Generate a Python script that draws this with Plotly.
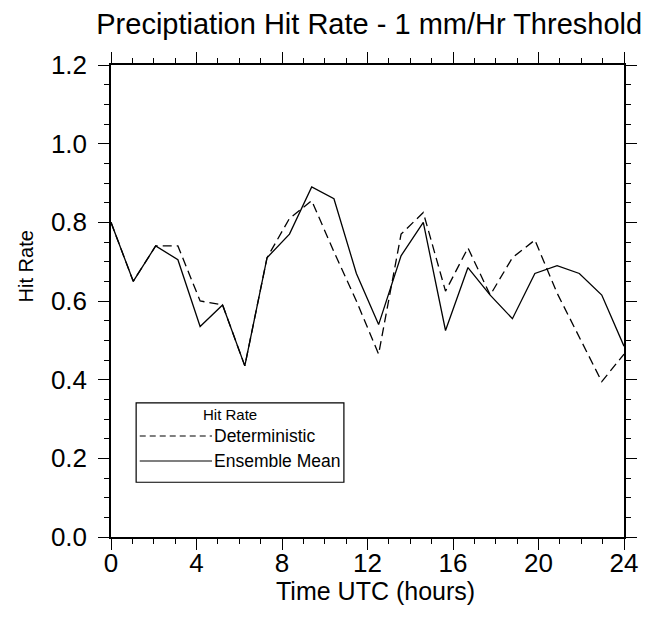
import plotly.graph_objects as go

# Forecast valid times (hours UTC)
time_utc = [0.0, 1.04, 2.09, 3.13, 4.17, 5.22, 6.26, 7.30, 8.35, 9.39, 10.43, 11.48,
            12.52, 13.57, 14.61, 15.65, 16.70, 17.74, 18.78, 19.83, 20.87, 21.91, 22.96, 24.0]

# Hit rates for the 1 mm/hr threshold
deterministic = [0.80, 0.65, 0.74, 0.74, 0.60, 0.59, 0.435, 0.71, 0.81, 0.855, 0.725, 0.60,
                 0.465, 0.77, 0.825, 0.625, 0.735, 0.615, 0.71, 0.755, 0.62, 0.51, 0.395, 0.465]
ensemble_mean = [0.80, 0.65, 0.74, 0.705, 0.535, 0.59, 0.435, 0.71, 0.77, 0.89, 0.86, 0.67,
                 0.54, 0.715, 0.80, 0.525, 0.685, 0.615, 0.555, 0.67, 0.69, 0.67, 0.615, 0.485]

x_ticks = [0, 4, 8, 12, 16, 20, 24]
y_ticks = [0.0, 0.2, 0.4, 0.6, 0.8, 1.0, 1.2]

FONT = "Liberation Sans, Arial, sans-serif"

fig = go.Figure()
fig.add_trace(go.Scatter(x=time_utc, y=deterministic, mode="lines", name="Deterministic",
                         line=dict(color="black", width=1.3, dash="9px,5px")))
fig.add_trace(go.Scatter(x=time_utc, y=ensemble_mean, mode="lines", name="Ensemble Mean",
                         line=dict(color="black", width=1.3)))

axis_common = dict(showline=True, linecolor="black", linewidth=1.5, mirror="allticks",
                   ticks="outside", ticklen=11, tickwidth=1.2, tickcolor="black",
                   showgrid=False, zeroline=False,
                   tickfont=dict(family=FONT, size=26, color="black"))

fig.update_xaxes(range=[0, 24], tickvals=x_ticks, ticktext=[str(v) for v in x_ticks],
                 minor=dict(dtick=1, ticks="outside", ticklen=5, tickwidth=1, tickcolor="black"),
                 ticklabelstandoff=-9,
                 **axis_common)
fig.update_yaxes(range=[0, 1.2], tickvals=y_ticks, ticktext=[f"{v:.1f}" for v in y_ticks],
                 minor=dict(dtick=0.05, ticks="outside", ticklen=5, tickwidth=1, tickcolor="black"),
                 ticklabelstandoff=6,
                 **axis_common)

# Hand-built legend box in the lower left of the plot area
box_x0, box_x1, box_y0, box_y1 = 0.049, 0.454, 0.116, 0.284
line_x0, line_x1 = 0.056, 0.197
row_y = [0.214, 0.161]
styles = [dict(color="black", width=1.2, dash="6px,4px"), dict(color="black", width=1.2)]
labels = ["Deterministic", "Ensemble Mean"]

shapes = [dict(type="rect", xref="paper", yref="paper", x0=box_x0, x1=box_x1,
               y0=box_y0, y1=box_y1, line=dict(color="black", width=1.2),
               fillcolor="white", layer="above")]
annotations = [
    dict(text="Hit Rate", xref="paper", yref="paper", x=0.232, y=0.259,
         showarrow=False, xanchor="center", yanchor="middle",
         font=dict(family=FONT, size=15, color="black")),
    # axis titles
    dict(text="Hit Rate", xref="paper", yref="paper", x=-0.166, y=0.573,
         showarrow=False, xanchor="center", yanchor="middle", textangle=-90,
         font=dict(family=FONT, size=20, color="black")),
    dict(text="Time UTC (hours)", xref="paper", yref="paper", x=0.515, y=-0.114,
         showarrow=False, xanchor="center", yanchor="middle",
         font=dict(family=FONT, size=25, color="black")),
]
for yy, st, lab in zip(row_y, styles, labels):
    shapes.append(dict(type="line", xref="paper", yref="paper", x0=line_x0, x1=line_x1,
                       y0=yy, y1=yy, line=st, layer="above"))
    annotations.append(dict(text=lab, xref="paper", yref="paper", x=line_x1, y=yy,
                            showarrow=False, xanchor="left", yanchor="middle",
                            font=dict(family=FONT, size=17.5, color="black")))

fig.update_layout(
    width=650, height=617,
    margin=dict(l=111, r=21, t=65, b=80),
    paper_bgcolor="white", plot_bgcolor="white",
    showlegend=False,
    title=dict(text="Preciptiation Hit Rate - 1 mm/Hr Threshold", x=0.568, xanchor="center",
               y=0.961, yanchor="middle", font=dict(family=FONT, size=29, color="black")),
    shapes=shapes, annotations=annotations,
)

fig.write_html("out.html")
